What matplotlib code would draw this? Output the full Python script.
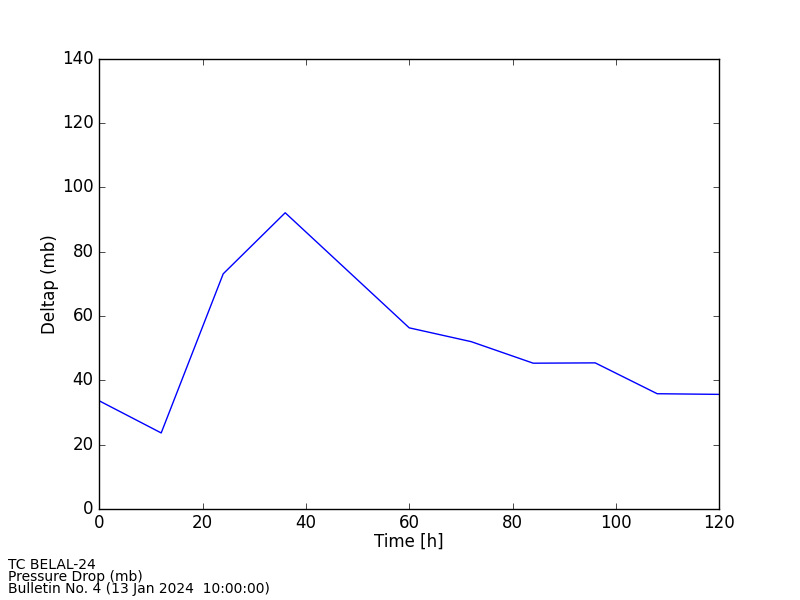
import matplotlib
matplotlib.use("Agg")
import matplotlib.pyplot as plt

plt.style.use("classic")

hours = [0, 12, 24, 36, 48, 60, 72, 84, 96, 108, 120]
deltap = [33.6, 23.6, 73.1, 92.1, 74.2, 56.3, 52.0, 45.3, 45.4, 35.8, 35.6]

fig = plt.figure(figsize=(8, 6), dpi=100, facecolor="white")
ax = fig.add_axes([0.124, 0.152, 0.775, 0.75])
ax.plot(hours, deltap, color="blue", linewidth=1)
ax.set_xlim(0, 120)
ax.set_ylim(0, 140)
ax.set_xlabel("Time [h]", labelpad=0)
ax.set_ylabel("Deltap (mb)", labelpad=2)

fig.text(0.01, 0.051, "TC BELAL-24", fontsize=10)
fig.text(0.01, 0.031, "Pressure Drop (mb)", fontsize=10)
fig.text(0.01, 0.011, "Bulletin No. 4 (13 Jan 2024  10:00:00)", fontsize=10)

fig.savefig("out.png", dpi=100, facecolor="white")
